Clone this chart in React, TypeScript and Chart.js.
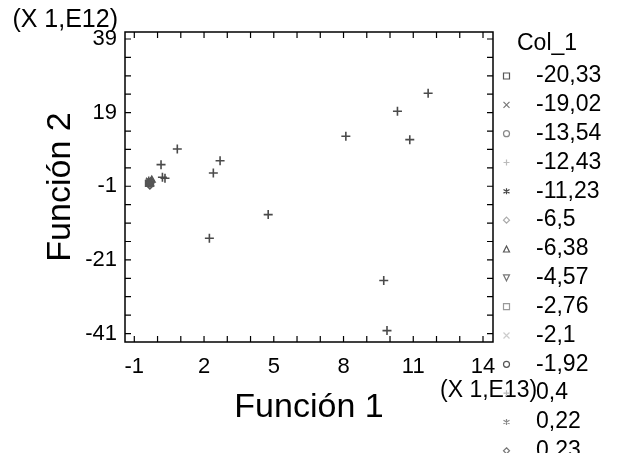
import React, { useEffect, useRef } from 'react';
import { Chart, registerables } from 'chart.js';

Chart.register(...registerables);

const FONT = '"Liberation Sans", Arial, sans-serif';

// Observations (Función 1 in units of 1E13, Función 2 in units of 1E12)
const obsX = [0.15, 0.21, 0.32, 0.85, 2.23, 2.40, 2.69, 4.76, 8.10, 10.32, 10.85, 11.64, 9.73, 9.87];
const obsY = [4.87, 1.44, 1.17, 9.13, -15.1, 2.61, 5.95, -8.7, 12.58, 19.36, 11.66, 24.25, -26.6, -40.2];

// Dense cluster near the origin (many overlapping groups)
const clusterX = [-0.38, -0.26, -0.32, -0.40, -0.25, -0.33, -0.30, -0.36];
const clusterY = [0.6, -0.4, 0.1, -0.3, 0.7, -0.7, 0.3, 0.0];
const clusterStyles = ['star', 'crossRot', 'circle', 'rect', 'triangle', 'rectRot', 'cross', 'star'];

const xTickValues = [-1, 0, 1, 2, 3, 4, 5, 6, 7, 8, 9, 10, 11, 12, 13, 14];
const xTickLabels = [-1, 2, 5, 8, 11, 14];
const yTickValues = [-41, -36, -31, -26, -21, -16, -11, -6, -1, 4, 9, 14, 19, 24, 29, 34, 39];
const yTickLabels = [-41, -21, -1, 19, 39];

const xTitle = 'Función 1';
const yTitle = 'Función 2';
const xMultiplier = '(X 1,E13)';
const yMultiplier = '(X 1,E12)';

const legendTitle = 'Col_1';
const legendLabels = ['-20,33', '-19,02', '-13,54', '-12,43', '-11,23', '-6,5', '-6,38', '-4,57', '-2,76', '-2,1', '-1,92', '0,4', '0,22', '0,23'];
const legendStyles = ['rect', 'crossRot', 'circle', 'cross', 'star', 'rectRot', 'triangle', 'invTriangle', 'rect', 'crossRot', 'circle', 'cross', 'star', 'rectRot'];
const legendColors = ['#555555', '#777777', '#888888', '#bbbbbb', '#444444', '#aaaaaa', '#555555', '#777777', '#999999', '#cccccc', '#555555', '#bbbbbb', '#888888', '#777777'];

function drawMarker(ctx: CanvasRenderingContext2D, style: string, x: number, y: number, r: number) {
  ctx.beginPath();
  switch (style) {
    case 'rect':
      ctx.rect(x - r, y - r, 2 * r, 2 * r);
      break;
    case 'circle':
      ctx.arc(x, y, r, 0, Math.PI * 2);
      break;
    case 'cross':
      ctx.moveTo(x - r, y); ctx.lineTo(x + r, y);
      ctx.moveTo(x, y - r); ctx.lineTo(x, y + r);
      break;
    case 'crossRot':
      ctx.moveTo(x - r, y - r); ctx.lineTo(x + r, y + r);
      ctx.moveTo(x - r, y + r); ctx.lineTo(x + r, y - r);
      break;
    case 'star':
      ctx.moveTo(x, y - r); ctx.lineTo(x, y + r);
      ctx.moveTo(x - r, y - r * 0.6); ctx.lineTo(x + r, y + r * 0.6);
      ctx.moveTo(x - r, y + r * 0.6); ctx.lineTo(x + r, y - r * 0.6);
      break;
    case 'rectRot':
      ctx.moveTo(x, y - r); ctx.lineTo(x + r, y); ctx.lineTo(x, y + r); ctx.lineTo(x - r, y); ctx.closePath();
      break;
    case 'triangle':
      ctx.moveTo(x, y - r); ctx.lineTo(x + r, y + r); ctx.lineTo(x - r, y + r); ctx.closePath();
      break;
    case 'invTriangle':
      ctx.moveTo(x, y + r); ctx.lineTo(x + r, y - r); ctx.lineTo(x - r, y - r); ctx.closePath();
      break;
  }
  ctx.stroke();
}

const framePlugin = {
  id: 'frameAndLegend',
  afterDraw(chart: any) {
    const { ctx, chartArea: a, scales } = chart;
    ctx.save();
    // frame
    ctx.strokeStyle = '#000';
    ctx.lineWidth = 1.5;
    ctx.strokeRect(a.left, a.top, a.right - a.left, a.bottom - a.top);
    // inward ticks on all sides
    const tl = 6;
    ctx.lineWidth = 1.2;
    ctx.beginPath();
    xTickValues.forEach((v) => {
      const px = scales.x.getPixelForValue(v);
      ctx.moveTo(px, a.bottom); ctx.lineTo(px, a.bottom - tl);
      ctx.moveTo(px, a.top); ctx.lineTo(px, a.top + tl);
    });
    yTickValues.forEach((v) => {
      const py = scales.y.getPixelForValue(v);
      ctx.moveTo(a.left, py); ctx.lineTo(a.left + tl, py);
      ctx.moveTo(a.right, py); ctx.lineTo(a.right - tl, py);
    });
    ctx.stroke();

    // multipliers
    ctx.fillStyle = '#000';
    ctx.textBaseline = 'alphabetic';
    ctx.font = `25px ${FONT}`;
    ctx.textAlign = 'right';
    ctx.fillText(yMultiplier, a.left - 7, a.top - 5);
    ctx.font = `23px ${FONT}`;
    ctx.textAlign = 'left';
    ctx.fillText(xMultiplier, a.right - 53, a.bottom + 55);

    // legend
    ctx.font = `23px ${FONT}`;
    ctx.fillText(legendTitle, a.right + 24, a.top + 18);
    ctx.textBaseline = 'middle';
    legendLabels.forEach((lab, i) => {
      const cy = a.top + 44 + i * 28.83;
      ctx.strokeStyle = legendColors[i];
      ctx.lineWidth = 1.2;
      drawMarker(ctx, legendStyles[i], a.right + 13.5, cy, 3);
      ctx.fillStyle = '#000';
      ctx.fillText(lab, a.right + 43, cy);
    });
    ctx.restore();
  },
};

export default function App() {
  const ref = useRef<HTMLCanvasElement>(null);

  useEffect(() => {
    if (!ref.current) return;
    const chart = new Chart(ref.current, {
      type: 'scatter',
      data: {
        datasets: [
          {
            label: 'observaciones',
            data: obsX.map((x, i) => ({ x, y: obsY[i] })),
            pointStyle: 'cross',
            pointRadius: 4.5,
            borderColor: '#4a4a4a',
            backgroundColor: '#4a4a4a',
            borderWidth: 1.6,
          },
          {
            label: 'grupo',
            data: clusterX.map((x, i) => ({ x, y: clusterY[i] })),
            pointStyle: clusterStyles as any,
            pointRadius: 3.8,
            borderColor: '#555555',
            backgroundColor: 'rgba(85,85,85,0.6)',
            borderWidth: 1.5,
          },
        ],
      },
      options: {
        animation: false,
        responsive: false,
        events: [],
        layout: { padding: { top: 32, right: 126, left: 0, bottom: 0 } },
        plugins: { legend: { display: false }, tooltip: { enabled: false } },
        scales: {
          x: {
            type: 'linear',
            min: -1.4,
            max: 14.43,
            afterBuildTicks: (s: any) => { s.ticks = xTickValues.map((v) => ({ value: v })); },
            afterFit: (s: any) => { s.height = 111; },
            grid: { display: false, drawTicks: false },
            border: { display: false },
            ticks: {
              autoSkip: false,
              maxRotation: 0,
              padding: 12,
              color: '#000',
              font: { family: FONT, size: 22 },
              callback: (v: any) => (xTickLabels.includes(Number(v)) ? String(v) : ''),
            },
            title: {
              display: true,
              text: xTitle,
              color: '#000',
              font: { family: FONT, size: 34, lineHeight: 1 },
              padding: { top: 0, bottom: 28.5 },
            },
          },
          y: {
            type: 'linear',
            min: -43.3,
            max: 40.9,
            afterBuildTicks: (s: any) => { s.ticks = yTickValues.map((v) => ({ value: v })); },
            afterFit: (s: any) => { s.width = 125; },
            grid: { display: false, drawTicks: false },
            border: { display: false },
            ticks: {
              autoSkip: false,
              padding: 8,
              color: '#000',
              font: { family: FONT, size: 22 },
              callback: (v: any) => (yTickLabels.includes(Number(v)) ? String(v) : ''),
            },
            title: {
              display: true,
              text: yTitle,
              color: '#000',
              font: { family: FONT, size: 34, lineHeight: 1 },
              padding: { top: 44, bottom: 0 },
            },
          },
        },
      },
      plugins: [framePlugin],
    });
    return () => chart.destroy();
  }, []);

  return (
    <div style={{ position: 'fixed', left: 0, top: 0, width: 619, height: 453, background: '#fff' }}>
      <canvas ref={ref} width={619} height={453} />
    </div>
  );
}
